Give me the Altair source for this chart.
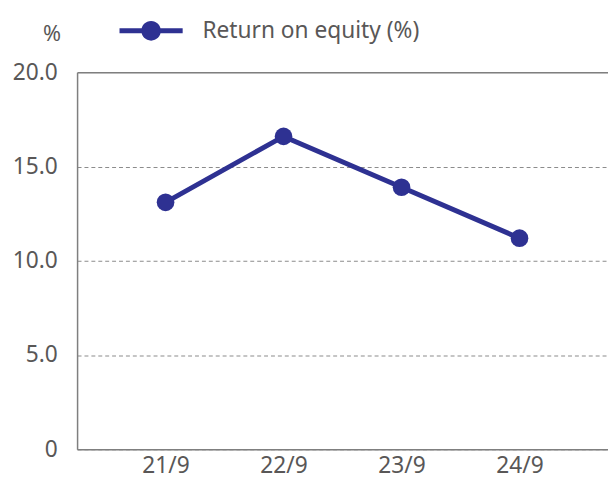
import altair as alt
import pandas as pd

categories = ["21/9", "22/9", "23/9", "24/9"]
roe = [13.1, 16.6, 13.9, 11.2]
series_name = "Return on equity (%)"

df = pd.DataFrame({"period": categories, "roe": roe, "series": [series_name] * len(categories)})

NAVY = "#2e3192"
TEXT = "#595757"
AXIS = "#7f7f7f"
FONT = "Noto Sans"
FS = 23

legend_path = (
    "M-1,-0.08L1,-0.08L1,0.08L-1,0.08Z "
    "M-0.31,0A0.31,0.31 0 1,1 0.31,0A0.31,0.31 0 1,1 -0.31,0Z"
)

x_enc = alt.X(
    "period:O",
    sort=categories,
    scale=alt.Scale(type="point", padding=0.75),
    axis=alt.Axis(
        title=None, labelAngle=0, ticks=False, domainColor=AXIS, domainWidth=1.5,
        labelPadding=6, labelFontSize=FS, labelColor=TEXT, labelFont=FONT, grid=False,
    ),
)
y_enc = alt.Y(
    "roe:Q",
    scale=alt.Scale(domain=[0, 20], nice=False, zero=True),
    axis=alt.Axis(
        values=[0, 5, 10, 15, 20],
        labelExpr="datum.value == 0 ? '0' : format(datum.value, '.1f')",
        title="%", titleAngle=0, titleX=-26, titleY=-39, titleAlign="center",
        titleBaseline="middle", titleFontSize=22, titleFontWeight="normal",
        titleColor=TEXT, titleFont=FONT,
        ticks=False, domainColor=AXIS, domainWidth=1.5,
        labelPadding=20, labelFontSize=FS, labelColor=TEXT, labelFont=FONT,
        grid=True,
        gridColor={"condition": {"test": "datum.value == 20", "value": AXIS}, "value": "#8c8c8c"},
        gridDash={"condition": {"test": "datum.value == 20", "value": []}, "value": [4, 3]},
        gridWidth={"condition": {"test": "datum.value == 20", "value": 1.5}, "value": 1.2},
    ),
)
color_enc = alt.Color(
    "series:N",
    scale=alt.Scale(range=[NAVY]),
    legend=alt.Legend(
        title=None, orient="none", legendX=43, legendY=-74, padding=0,
        symbolType=legend_path, symbolSize=4096, symbolStrokeWidth=0,
        symbolFillColor=NAVY, labelOffset=20, labelFontSize=FS,
        labelColor=TEXT, labelFont=FONT, labelLimit=400,
    ),
)

base = alt.Chart(df)
line = base.mark_line(strokeWidth=5, color=NAVY).encode(x=x_enc, y=y_enc)
points = base.mark_point(filled=True, opacity=1, size=320).encode(x=x_enc, y=y_enc, color=color_enc)

chart = (
    alt.layer(line, points)
    .properties(
        width=538, height=382,
        autosize=alt.AutoSizeParams(type="none"),
        padding={"left": 70, "top": 62, "right": 0, "bottom": 28},
    )
    .configure_view(stroke="transparent", strokeWidth=0)
    .configure(background="white")
)

chart.save("out.html", embed_options={"renderer": "svg", "actions": False})
